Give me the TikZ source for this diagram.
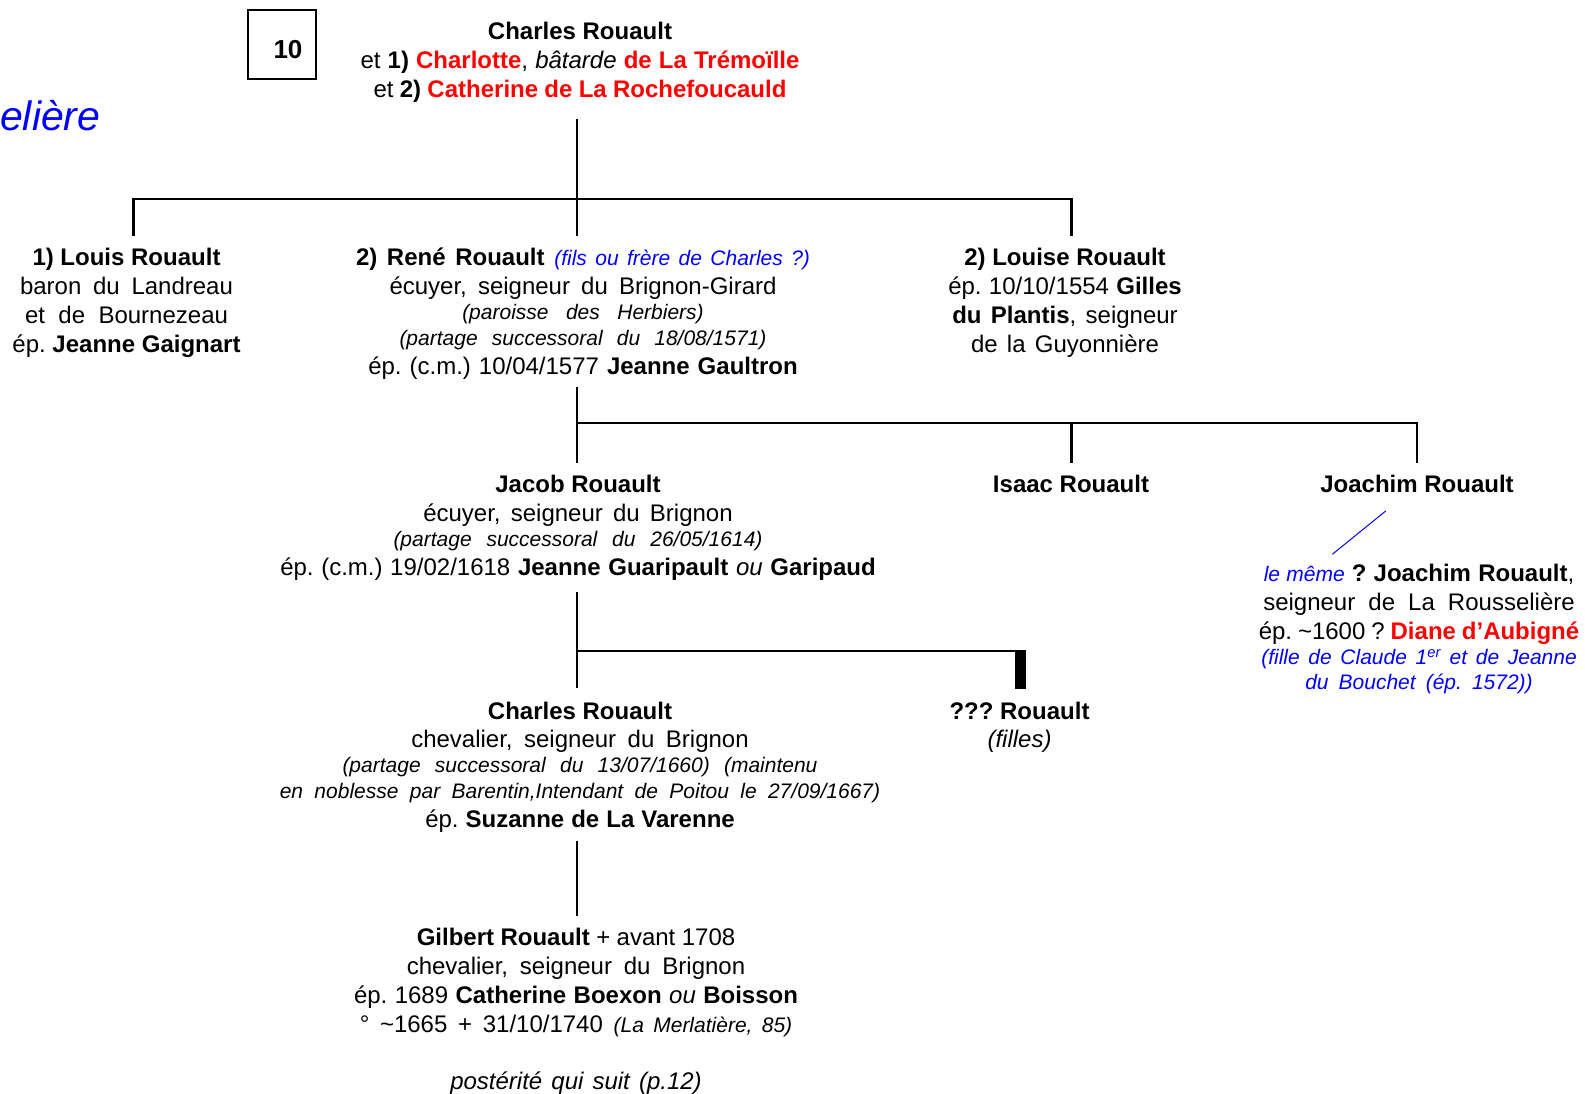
\documentclass[tikz,border=0pt]{standalone}
\usepackage{fontspec}
\setmainfont{Liberation Sans}
\usepackage{xcolor}
\usetikzlibrary{
	positioning,    % posizionamento relativo dei nodi
	calc            % coordinate calcolate
}
\definecolor{rosso}{RGB}{255,0,0}
\definecolor{blu}{RGB}{0,0,255}
\frenchspacing
% testo piccolo in corsivo (note)
\newcommand{\nota}[1]{{\fontsize{21}{26}\selectfont\itshape #1}}
% riga giustificata a larghezza fissa
\newcommand{\riga}[2]{\makebox[#1pt][s]{#2}}

\begin{document}
\begin{tikzpicture}[
	x=1pt, y=-1pt,
	persona/.style={align=center, inner sep=0pt, anchor=north,
		font=\fontsize{24}{29}\selectfont},
	ramo/.style={line width=2.2pt, line join=miter},
	]
	\useasboundingbox (0,0) rectangle (1585,1093);

	% --- Riquadro pagina ---
	\node[draw, line width=1.2pt, minimum width=68pt, minimum height=69pt, inner sep=0pt] (cadre) at (282,44.5) {};
	\node[font=\fontsize{26}{30}\selectfont\bfseries, inner sep=0pt] (numero) at (288,49.5) {10};
	\node[anchor=base west, inner sep=0pt, text=blu, font=\fontsize{41}{46}\selectfont\itshape] (titolo) at (0,130) {elière};

	% --- Capostipite ---
	\node[persona] (charles) at (580,21.5) {%
		\textbf{Charles Rouault}\\
		\riga{439}{et \textbf{1) \textcolor{rosso}{Charlotte}}, \textit{bâtarde} \textcolor{rosso}{\textbf{de La Trémoïlle}}}\\
		\riga{413}{et \textbf{2) \textcolor{rosso}{Catherine de La Rochefoucauld}}}};

	% --- Figli ---
	\node[persona] (louis) at (126.5,248) {%
		\textbf{1) Louis Rouault}\\
		\riga{213}{baron du Landreau}\\
		\riga{203}{et de Bournezeau}\\
		ép. \textbf{Jeanne Gaignart}};
	\node[persona] (rene) at (583,248) {%
		\riga{454}{\textbf{2) René Rouault} \textcolor{blu}{\nota{(fils ou frère de Charles ?)}}}\\
		\riga{387}{écuyer, seigneur du Brignon-Girard}\\[-4pt]
		\nota{\riga{241.5}{(paroisse des Herbiers)}}\\[-3pt]
		\nota{\riga{367}{(partage successoral du 18/08/1571)}}\\
		\riga{429.5}{ép. (c.m.) 10/04/1577 \textbf{Jeanne Gaultron}}};
	\node[persona] (louise) at (1065,248) {%
		\textbf{2) Louise Rouault}\\
		\riga{233.5}{ép. 10/10/1554 \textbf{Gilles}}\\
		\riga{225.5}{\textbf{du Plantis}, seigneur}\\
		\riga{188}{de la Guyonnière}};

	% --- Nipoti ---
	\node[persona] (jacob) at (578,475) {%
		\textbf{Jacob Rouault}\\
		\riga{309.5}{écuyer, seigneur du Brignon}\\[-4pt]
		\nota{\riga{369}{(partage successoral du 26/05/1614)}}\\
		\riga{595.5}{ép. (c.m.) 19/02/1618 \textbf{Jeanne Guaripault} \textit{ou} \textbf{Garipaud}}};
	\node[persona] (isaac) at (1071,475) {\textbf{Isaac Rouault}};
	\node[persona] (joachim) at (1417,475) {\textbf{Joachim Rouault}};
	\node[persona] (joachimbis) at (1419,564) {%
		\riga{310.5}{\textcolor{blu}{\nota{le même}} \textbf{? Joachim Rouault},}\\
		\riga{311.5}{seigneur de La Rousselière}\\
		\riga{320.5}{ép. \textasciitilde1600 ? \textcolor{rosso}{\textbf{Diane d’Aubigné}}}\\[-4pt]
		\textcolor{blu}{\nota{\riga{315.5}{(fille de Claude 1\textsuperscript{er} et de Jeanne}}}\\[-4pt]
		\textcolor{blu}{\nota{\riga{227.5}{du Bouchet (ép. 1572))}}}};

	% --- Pronipoti ---
	\node[persona] (charlesbis) at (580,702) {%
		\textbf{Charles Rouault}\\[-1pt]
		\riga{337.5}{chevalier, seigneur du Brignon}\\[-4pt]
		\nota{\riga{475}{(partage successoral du 13/07/1660) (maintenu}}\\[-3pt]
		\nota{\riga{600.5}{en noblesse par Barentin,Intendant de Poitou le 27/09/1667)}}\\
		\riga{309.5}{ép. \textbf{Suzanne de La Varenne}}};
	\node[persona] (filles) at (1019.5,702) {%
		\textbf{??? Rouault}\\[-1pt]
		\textit{(filles)}};

	\node[persona] (gilbert) at (576,928) {%
		\riga{318.5}{\textbf{Gilbert Rouault} + avant 1708}\\
		\riga{338.5}{chevalier, seigneur du Brignon}\\
		\riga{444}{ép. 1689 \textbf{Catherine Boexon} \textit{ou} \textbf{Boisson}}\\
		\riga{432.5}{° \textasciitilde1665 + 31/10/1740 \nota{(La Merlatière, 85)}}\\[28pt]
		\riga{251.5}{\textit{postérité qui suit (p.12)}}};

	% --- Rami ---
	\coordinate (charlesB) at (577,119.3);
	\coordinate (louisT) at (133.5,236);
	\coordinate (reneT) at (577,236);
	\coordinate (louiseT) at (1071.5,236);
	\draw[ramo] (charlesB) -- (reneT);
	\draw[ramo] (louisT) |- (charlesB |- 0,199.3) -| (louiseT);

	\coordinate (reneB) at (577,387.3);
	\coordinate (jacobT) at (577,462.7);
	\coordinate (isaacT) at (1071.5,462.7);
	\coordinate (joachimT) at (1417,462.7);
	\draw[ramo] (reneB) -- (jacobT);
	\draw[ramo] (reneB |- 0,423.3) -| (isaacT);
	\draw[ramo] (isaacT |- 0,423.3) -| (joachimT);

	\coordinate (jacobB) at (577,591.7);
	\coordinate (charlesbisT) at (577,688.3);
	\coordinate (fillesT) at (1020.3,689.3);
	\draw[ramo] (jacobB) -- (charlesbisT);
	\draw[ramo] (jacobB |- 0,650.7) -- (fillesT |- 0,650.7);
	\draw[line width=10.5pt] (fillesT |- 0,649.6) -- (fillesT);

	\coordinate (charlesbisB) at (577,840.7);
	\coordinate (gilbertT) at (577,916);
	\draw[ramo] (charlesbisB) -- (gilbertT);

	% --- Rinvio (le même ?) ---
	\coordinate (joachimA) at (1385.7,511);
	\coordinate (joachimC) at (1332.3,554.3);
	\draw[blu, line width=1pt] (joachimA) -- (joachimC);
\end{tikzpicture}
\end{document}
